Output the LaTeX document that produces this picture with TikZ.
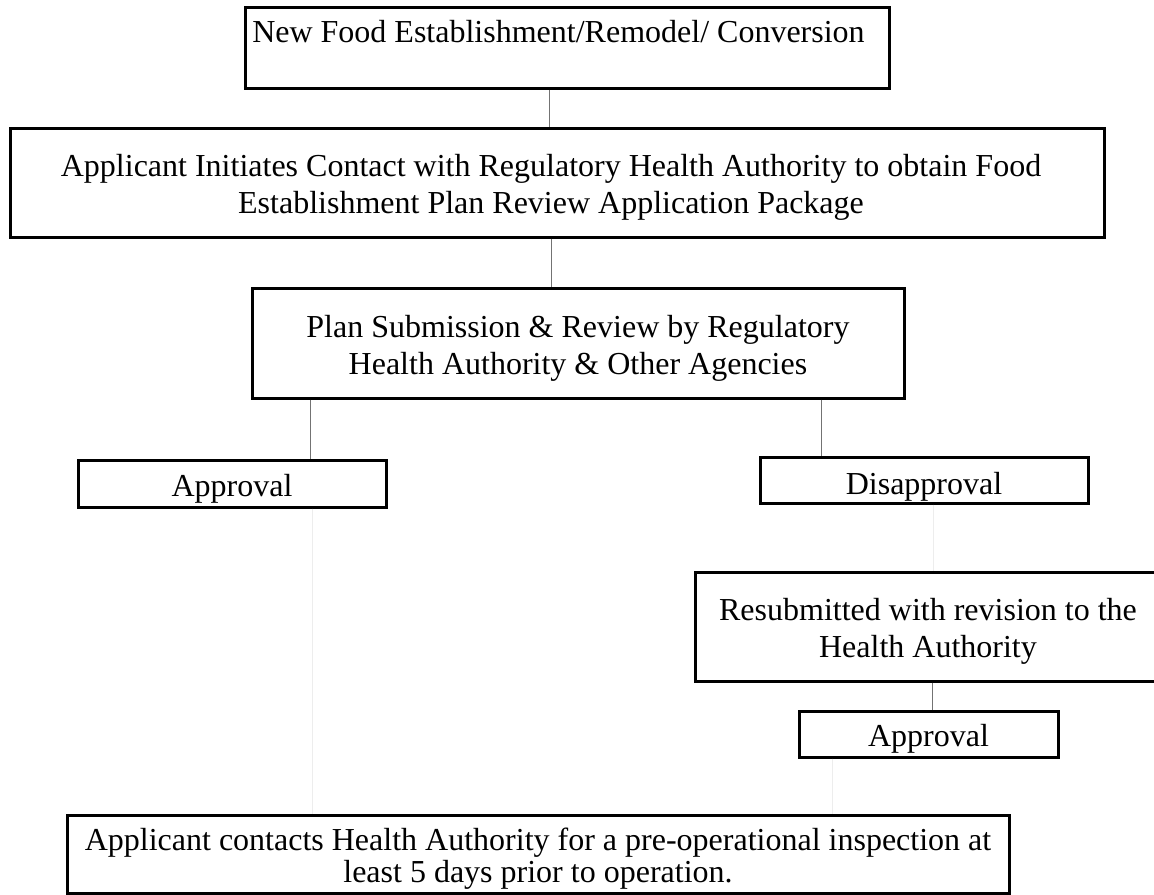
\documentclass[tikz,border=0pt]{standalone}
\usepackage{fontspec}
\setmainfont{Liberation Serif}
\begin{document}
\begin{tikzpicture}[x=0.75pt,y=-0.75pt,
  box/.style={draw=black, line width=2.25pt, rectangle, inner sep=0pt},
  lbl/.style={inner sep=0pt, align=center, yshift=-3.75pt,
    font=\fontsize{24pt}{27.75pt}\selectfont},
  txt/.style={inner sep=0pt, font=\fontsize{24pt}{27.75pt}\selectfont},
  conn/.style={draw=black!55, line width=0.75pt},
  faint/.style={draw=black!7, line width=0.75pt}]
\useasboundingbox (0,0) rectangle (1154,894);
\clip (0,0) rectangle (1154,894);
\fill[white] (0,0) rectangle (1154,894);
% boxes
\node[box, minimum width=483pt, minimum height=61.1pt] (b1) at (567,48.25) {};
\node[txt, anchor=base west] (t1) at (252,42) {New Food Establishment/Remodel/ Conversion};
\node[box, minimum width=820.5pt, minimum height=81.75pt,
  label={[lbl, xshift=-4.5pt]center:{Applicant Initiates Contact with Regulatory Health Authority to obtain Food\\Establishment Plan Review Application Package}}] (b2) at (557,182.5) {};
\node[box, minimum width=489pt, minimum height=82.5pt,
  label={[lbl]center:{Plan Submission \& Review by Regulatory\\Health Authority \& Other Agencies}}] (b3) at (578,343) {};
\node[box, minimum width=231pt, minimum height=35.25pt,
  label={[lbl, yshift=-0.5pt]center:{Approval}}] (ap1) at (232,483.5) {};
\node[box, minimum width=246pt, minimum height=34.5pt,
  label={[lbl, yshift=-1pt]center:{Disapproval}}] (dis) at (924,480) {};
\node[box, minimum width=349.5pt, minimum height=81.75pt,
  label={[lbl]center:{Resubmitted with revision to the\\Health Authority}}] (res) at (928,626.5) {};
\node[box, minimum width=194.25pt, minimum height=34.5pt,
  label={[lbl]center:{Approval}}] (ap2) at (928.5,734) {};
\node[box, minimum width=706.5pt, minimum height=58.5pt,
  label={[lbl, font=\fontsize{24pt}{24pt}\selectfont]center:{Applicant contacts Health Authority for a pre-operational inspection at\\least 5 days prior to operation.}}] (fin) at (538,854) {};
% connectors
\draw[conn] (549,0 |- b1.south) -- (549,0 |- b2.north);
\draw[conn] (551,0 |- b2.south) -- (551,0 |- b3.north);
\draw[conn] (310,0 |- b3.south) -- (310,0 |- ap1.north);
\draw[conn] (821,0 |- b3.south) -- (821,0 |- dis.north);
\draw[faint] (933,0 |- dis.south) -- (933,0 |- res.north);
\draw[conn] (932,0 |- res.south) -- (932,0 |- ap2.north);
\draw[faint] (312,0 |- ap1.south) -- (312,0 |- fin.north);
\draw[faint] (832,0 |- ap2.south) -- (832,0 |- fin.north);
\end{tikzpicture}
\end{document}
